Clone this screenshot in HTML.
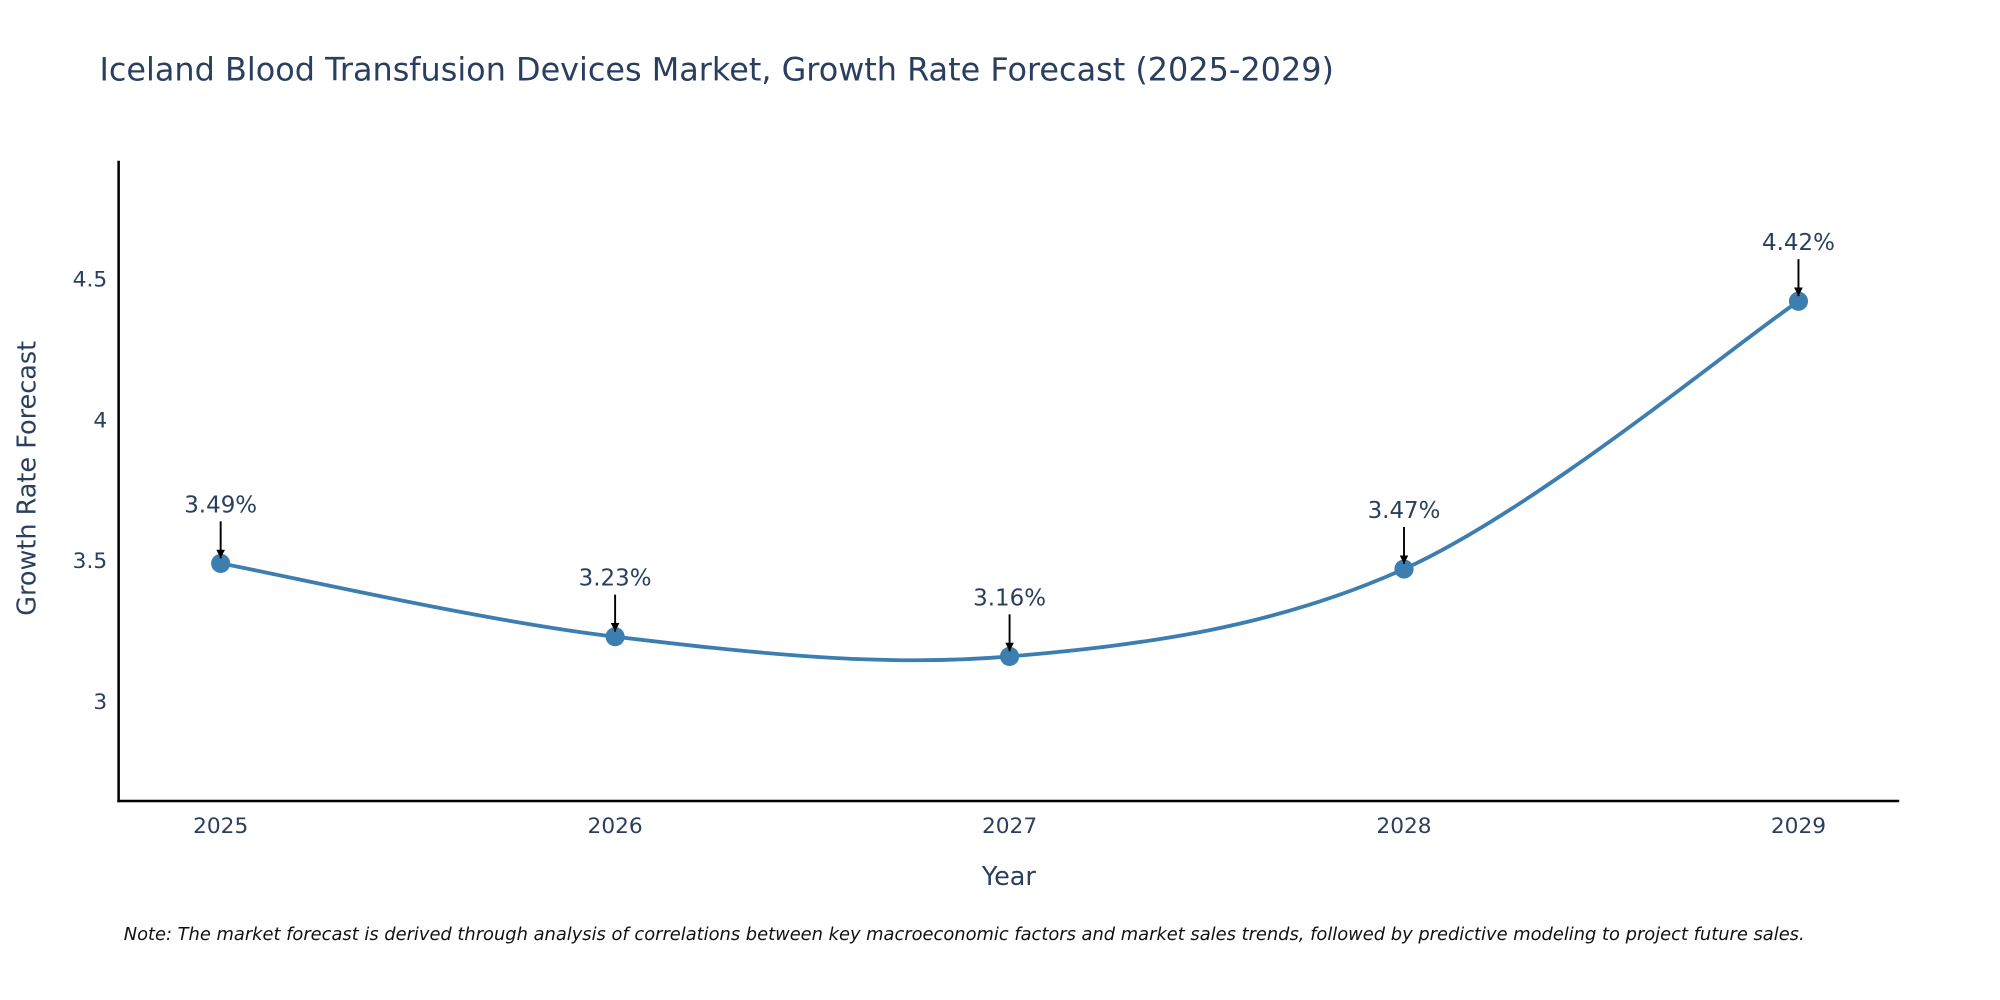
<!DOCTYPE html>
<html><head><meta charset="utf-8"><style>
html,body{margin:0;padding:0;background:#fff;}
svg{display:block;font-family:"DejaVu Sans","Liberation Sans",sans-serif;}
</style></head><body>
<svg id="chart" width="2000" height="1000" viewBox="0 0 1568 784" xmlns="http://www.w3.org/2000/svg">
<defs><marker id="ah" viewBox="0 0 10 10" refX="10" refY="5" markerWidth="4.5" markerHeight="4.5" orient="auto"><path d="M0,0 L10,5 L0,10 z" fill="#000"/></marker></defs>
<text x="78" y="63" font-size="25" fill="#2a3f5f">Iceland Blood Transfusion Devices Market, Growth Rate Forecast (2025-2029)</text>
<g id="yticks"></g>
<g id="xticks"></g>
<line x1="93" y1="126" x2="93" y2="629" stroke="#000" stroke-width="2"/>
<line x1="92" y1="628" x2="1489" y2="628" stroke="#000" stroke-width="2"/>
<path id="line" fill="none" stroke="#3d7eb0" stroke-width="3"/>
<g id="marks"></g>
<text x="0" y="0" transform="translate(28,375) rotate(-90)" text-anchor="middle" font-size="20" fill="#2a3f5f">Growth Rate Forecast</text>
<text x="791" y="694" text-anchor="middle" font-size="20" fill="#2a3f5f">Year</text>
<text x="97" y="737" font-size="14" font-style="italic" fill="#111">Note: The market forecast is derived through analysis of correlations between key macroeconomic factors and market sales trends, followed by predictive modeling to project future sales.</text>
</svg>
<script>
const years = [2025, 2026, 2027, 2028, 2029];
const growth = [3.49, 3.23, 3.16, 3.47, 4.42];
const yTickValues = [3, 3.5, 4, 4.5];
const yTickLabels = ["3", "3.5", "4", "4.5"];
const NS = "http://www.w3.org/2000/svg";
const xs = v => 173 + (v - 2025) * 309.25;
const ys = v => 550 - (v - 3) * 221;
function mk(tag, attrs, parent, txt){const e=document.createElementNS(NS,tag);for(const k in attrs)e.setAttribute(k,attrs[k]);if(txt!==undefined)e.textContent=txt;parent.appendChild(e);return e;}
const yt=document.getElementById('yticks');
yTickValues.forEach((v,i)=>{const t=mk('text',{x:84,y:ys(v)+6,'text-anchor':'end','font-size':17,fill:'#2a3f5f'},yt,yTickLabels[i]);

});
const xt=document.getElementById('xticks');
years.forEach(y=>{const t=mk('text',{x:xs(y),y:653,'text-anchor':'middle','font-size':17,fill:'#2a3f5f'},xt,String(y));

});
const P=years.map((y,i)=>[xs(y),ys(growth[i])]);
let d=`M${P[0][0]},${P[0][1]}`;
const s=1/6;
for(let i=0;i<P.length-1;i++){const p0=P[Math.max(i-1,0)],p1=P[i],p2=P[i+1],p3=P[Math.min(i+2,P.length-1)];
const c1=[p1[0]+(p2[0]-p0[0])*s,p1[1]+(p2[1]-p0[1])*s],c2=[p2[0]-(p3[0]-p1[0])*s,p2[1]-(p3[1]-p1[1])*s];
d+=` C${c1[0]},${c1[1]} ${c2[0]},${c2[1]} ${p2[0]},${p2[1]}`;}
document.getElementById('line').setAttribute('d',d);
const g=document.getElementById('marks');
P.forEach((p,i)=>{const c=mk('circle',{cx:p[0],cy:p[1],r:7.5,fill:'#3d7eb0'},g);


const l=mk('line',{x1:p[0],y1:p[1]-33,x2:p[0],y2:p[1]-4,stroke:'#000','stroke-width':1.5,'marker-end':'url(#ah)'},g);


const t=mk('text',{x:p[0],y:p[1]-40,'text-anchor':'middle','font-size':18,fill:'#2a3f5f'},g,growth[i].toFixed(2)+'%');

});
</script>
</body></html>
